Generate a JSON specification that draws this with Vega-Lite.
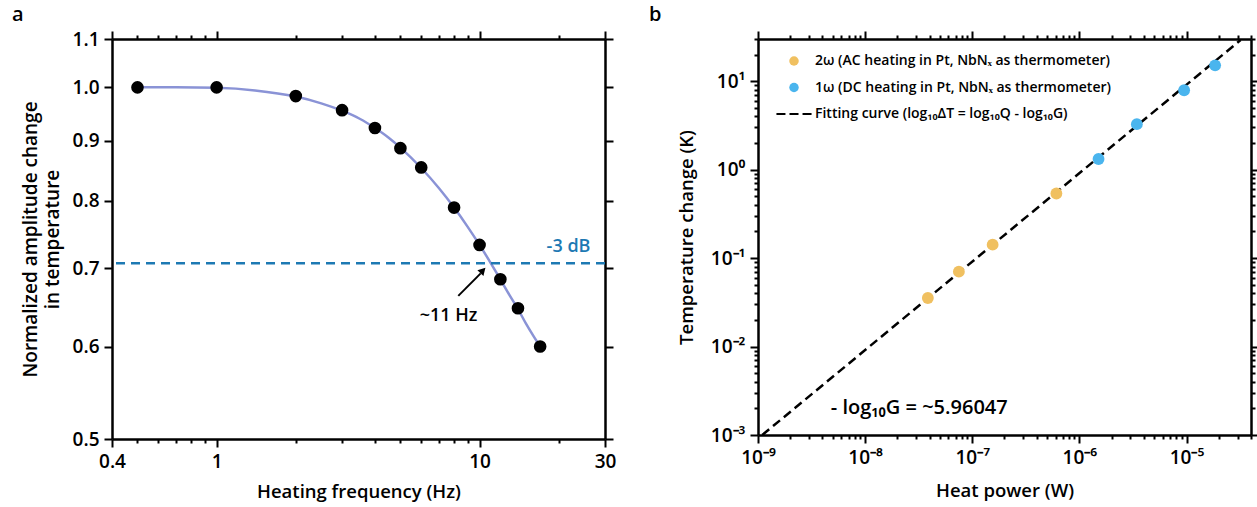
{
  "$schema": "https://vega.github.io/schema/vega-lite/v6.json",
  "background": "white",
  "padding": {"left": 12, "top": 5, "right": 0, "bottom": 5},
  "config": {
    "view": {"stroke": null},
    "font": "Open Sans",
    "axis": {
      "domainColor": "black", "domainWidth": 2.5, "tickColor": "black", "tickWidth": 2,
      "labelFont": "Open Sans", "labelFontSize": 19, "labelFontWeight": 600, "labelColor": "black",
      "titleFont": "Open Sans", "titleFontSize": 18.5, "titleFontWeight": 600, "titleColor": "black",
      "grid": false, "labelPadding": 5, "labelFlush": false, "labelOverlap": false
    },
    "legend": {
      "labelFont": "Open Sans", "labelFontSize": 14, "labelFontWeight": 600, "labelColor": "black",
      "symbolSize": 90, "padding": 0, "labelOffset": 14, "rowPadding": 12.5, "labelLimit": 500, "symbolStrokeWidth": 0
    },
    "title": {"font": "Open Sans", "fontSize": 20, "fontWeight": 600, "color": "black"}
  },
  "datasets": {
    "pointsA": [
      {"f": 0.5, "A": 1.0}, {"f": 1, "A": 1.0}, {"f": 2, "A": 0.983}, {"f": 3, "A": 0.956},
      {"f": 4, "A": 0.923}, {"f": 5, "A": 0.887}, {"f": 6, "A": 0.854}, {"f": 8, "A": 0.789},
      {"f": 10, "A": 0.733}, {"f": 12, "A": 0.685}, {"f": 14, "A": 0.647}, {"f": 17, "A": 0.6}
    ],
    "curve": [
      {"f": 0.5, "A": 1.0}, {"f": 0.7, "A": 1.0}, {"f": 1, "A": 0.999}, {"f": 1.4, "A": 0.994},
      {"f": 2, "A": 0.982}, {"f": 2.5, "A": 0.969}, {"f": 3, "A": 0.955}, {"f": 3.5, "A": 0.94},
      {"f": 4, "A": 0.923}, {"f": 4.5, "A": 0.906}, {"f": 5, "A": 0.888}, {"f": 6, "A": 0.853},
      {"f": 7, "A": 0.82}, {"f": 8, "A": 0.789}, {"f": 9, "A": 0.76}, {"f": 10, "A": 0.733},
      {"f": 11, "A": 0.708}, {"f": 12, "A": 0.685}, {"f": 13, "A": 0.664}, {"f": 14, "A": 0.646},
      {"f": 15, "A": 0.628}, {"f": 16, "A": 0.613}, {"f": 17, "A": 0.6}
    ],
    "level": [{"A": 0.707}],
    "dbLabel": [{"f": 21.8, "A": 0.73, "label": "-3 dB"}],
    "hzLabel": [{"f": 7.62, "A": 0.637, "label": "~11 Hz"}],
    "arrow": [{"f": 8.3, "A": 0.663, "f2": 10.1, "A2": 0.693}],
    "arrowHead": [{"f": 10.3, "A": 0.697}],
    "pointsB": [
      {"Q": 3.85e-8, "dT": 0.0354, "series": "2ω (AC heating in Pt, NbNₓ as thermometer)"},
      {"Q": 7.5e-8, "dT": 0.0703, "series": "2ω (AC heating in Pt, NbNₓ as thermometer)"},
      {"Q": 1.55e-7, "dT": 0.142, "series": "2ω (AC heating in Pt, NbNₓ as thermometer)"},
      {"Q": 6.1e-7, "dT": 0.538, "series": "2ω (AC heating in Pt, NbNₓ as thermometer)"},
      {"Q": 1.51e-6, "dT": 1.32, "series": "1ω (DC heating in Pt, NbNₓ as thermometer)"},
      {"Q": 3.44e-6, "dT": 3.27, "series": "1ω (DC heating in Pt, NbNₓ as thermometer)"},
      {"Q": 9.5e-6, "dT": 7.9, "series": "1ω (DC heating in Pt, NbNₓ as thermometer)"},
      {"Q": 1.85e-5, "dT": 15.1, "series": "1ω (DC heating in Pt, NbNₓ as thermometer)"}
    ],
    "fit": [{"Q": 1.0956e-9, "dT": 0.001}, {"Q": 3.2e-5, "dT": 29.2}],
    "gLabel": [{"Q": 3.2e-8, "dT": 0.002, "label": "- log₁₀G = ~5.96047"}]
  },
  "spacing": 153,
  "bounds": "flush",
  "hconcat": [
    {
      "width": 493, "height": 400,
      "title": {"text": "a", "anchor": "start", "frame": "group", "dx": -100, "offset": 5},
      "resolve": {"axis": {"x": "independent", "y": "independent"}},
      "layer": [
        {
          "data": {"name": "curve"},
          "mark": {"type": "line", "color": "#8a93d6", "strokeWidth": 2.5, "interpolate": "monotone"},
          "encoding": {
            "x": {"field": "f", "type": "quantitative",
              "scale": {"type": "log", "domain": [0.4, 30], "nice": false},
              "axis": {"orient": "bottom", "title": "Heating frequency (Hz)", "titlePadding": 11,
                "values": [0.4, 0.5, 0.6, 0.7, 0.8, 0.9, 1, 2, 3, 4, 5, 6, 7, 8, 9, 10, 20, 30],
                "labelExpr": "datum.value == 0.4 ? '0.4' : datum.value == 1 ? '1' : datum.value == 10 ? '10' : datum.value == 30 ? '30' : ''",
                "tickSize": {"condition": {"test": "datum.value == 0.4 || datum.value == 1 || datum.value == 10 || datum.value == 30", "value": 8}, "value": 4}}},
            "y": {"field": "A", "type": "quantitative",
              "scale": {"type": "log", "domain": [0.5, 1.1], "nice": false},
              "axis": {"orient": "left", "title": ["Normalized amplitude change", "in temperature"], "titleLineHeight": 22, "titlePadding": 10, "titleFontSize": 19,
                "values": [0.5, 0.6, 0.7, 0.8, 0.9, 1.0, 1.1], "format": ".1f", "tickSize": 8}}
          }
        },
        {
          "data": {"name": "pointsA"},
          "mark": {"type": "point", "filled": true, "color": "black", "size": 160, "opacity": 1},
          "encoding": {
            "x": {"field": "f", "type": "quantitative",
              "scale": {"type": "log", "domain": [0.4, 30], "nice": false},
              "axis": {"orient": "top", "title": null, "labels": false,
                "values": [0.4, 0.5, 0.6, 0.7, 0.8, 0.9, 1, 2, 3, 4, 5, 6, 7, 8, 9, 10, 20, 30],
                "tickSize": {"condition": {"test": "datum.value == 0.4 || datum.value == 1 || datum.value == 10 || datum.value == 30", "value": 8}, "value": 4}}},
            "y": {"field": "A", "type": "quantitative",
              "scale": {"type": "log", "domain": [0.5, 1.1], "nice": false},
              "axis": {"orient": "right", "title": null, "labels": false,
                "values": [0.5, 0.6, 0.7, 0.8, 0.9, 1.0, 1.1], "tickSize": 8}}
          }
        },
        {
          "data": {"name": "level"},
          "mark": {"type": "rule", "color": "#1d79b3", "strokeWidth": 2.5, "strokeDash": [9, 6]},
          "encoding": {
            "y": {"field": "A", "type": "quantitative", "scale": {"type": "log", "domain": [0.5, 1.1], "nice": false}, "axis": null}
          }
        },
        {
          "data": {"name": "dbLabel"},
          "mark": {"type": "text", "color": "#1d79b3", "fontSize": 18, "fontWeight": 600, "font": "Open Sans"},
          "encoding": {
            "x": {"field": "f", "type": "quantitative", "scale": {"type": "log", "domain": [0.4, 30], "nice": false}, "axis": null},
            "y": {"field": "A", "type": "quantitative", "scale": {"type": "log", "domain": [0.5, 1.1], "nice": false}, "axis": null},
            "text": {"field": "label"}
          }
        },
        {
          "data": {"name": "hzLabel"},
          "mark": {"type": "text", "color": "black", "fontSize": 18, "fontWeight": 600, "font": "Open Sans"},
          "encoding": {
            "x": {"field": "f", "type": "quantitative", "scale": {"type": "log", "domain": [0.4, 30], "nice": false}, "axis": null},
            "y": {"field": "A", "type": "quantitative", "scale": {"type": "log", "domain": [0.5, 1.1], "nice": false}, "axis": null},
            "text": {"field": "label"}
          }
        },
        {
          "data": {"name": "arrow"},
          "mark": {"type": "rule", "color": "black", "strokeWidth": 2},
          "encoding": {
            "x": {"field": "f", "type": "quantitative", "scale": {"type": "log", "domain": [0.4, 30], "nice": false}, "axis": null},
            "y": {"field": "A", "type": "quantitative", "scale": {"type": "log", "domain": [0.5, 1.1], "nice": false}, "axis": null},
            "x2": {"field": "f2"},
            "y2": {"field": "A2"}
          }
        },
        {
          "data": {"name": "arrowHead"},
          "mark": {"type": "point", "shape": "triangle-up", "filled": true, "color": "black", "size": 70, "angle": 44, "opacity": 1},
          "encoding": {
            "x": {"field": "f", "type": "quantitative", "scale": {"type": "log", "domain": [0.4, 30], "nice": false}, "axis": null},
            "y": {"field": "A", "type": "quantitative", "scale": {"type": "log", "domain": [0.5, 1.1], "nice": false}, "axis": null}
          }
        }
      ]
    },
    {
      "width": 493, "height": 396,
      "title": {"text": "b", "anchor": "start", "frame": "group", "dx": -109, "offset": 5},
      "resolve": {"axis": {"x": "independent", "y": "independent"}},
      "layer": [
        {
          "data": {"name": "fit"},
          "mark": {"type": "line", "color": "black", "strokeWidth": 2.5, "strokeDash": [9, 5]},
          "encoding": {
            "x": {"field": "Q", "type": "quantitative",
              "scale": {"type": "log", "domain": [1e-9, 4e-5], "nice": false},
              "axis": {"orient": "bottom", "title": "Heat power (W)", "titlePadding": 14,
                "values": [1e-9, 2e-9, 3e-9, 4e-9, 5e-9, 6e-9, 7e-9, 8e-9, 9e-9, 1e-8, 2e-8, 3e-8, 4e-8, 5e-8, 6e-8, 7e-8, 8e-8, 9e-8, 1e-7, 2e-7, 3e-7, 4e-7, 5e-7, 6e-7, 7e-7, 8e-7, 9e-7, 1e-6, 2e-6, 3e-6, 4e-6, 5e-6, 6e-6, 7e-6, 8e-6, 9e-6, 1e-5, 2e-5, 3e-5, 4e-5],
                "labelExpr": "abs(log(datum.value)/LN10 - round(log(datum.value)/LN10)) < 0.001 ? '10' + (round(log(datum.value)/LN10) < 0 ? '⁻' : '') + substring('⁰¹²³⁴⁵⁶⁷⁸⁹', abs(round(log(datum.value)/LN10)), abs(round(log(datum.value)/LN10)) + 1) : ''",
                "tickSize": {"condition": {"test": "abs(log(datum.value)/LN10 - round(log(datum.value)/LN10)) < 0.001", "value": 8}, "value": 4}}},
            "y": {"field": "dT", "type": "quantitative",
              "scale": {"type": "log", "domain": [0.001, 30], "nice": false},
              "axis": {"orient": "left", "title": "Temperature change (K)", "titlePadding": 14,
                "values": [0.001, 0.002, 0.003, 0.004, 0.005, 0.006, 0.007, 0.008, 0.009, 0.01, 0.02, 0.03, 0.04, 0.05, 0.06, 0.07, 0.08, 0.09, 0.1, 0.2, 0.3, 0.4, 0.5, 0.6, 0.7, 0.8, 0.9, 1, 2, 3, 4, 5, 6, 7, 8, 9, 10, 20, 30],
                "labelExpr": "abs(log(datum.value)/LN10 - round(log(datum.value)/LN10)) < 0.001 ? '10' + (round(log(datum.value)/LN10) < 0 ? '⁻' : '') + substring('⁰¹²³⁴⁵⁶⁷⁸⁹', abs(round(log(datum.value)/LN10)), abs(round(log(datum.value)/LN10)) + 1) : ''",
                "tickSize": {"condition": {"test": "abs(log(datum.value)/LN10 - round(log(datum.value)/LN10)) < 0.001", "value": 8}, "value": 4}}}
          }
        },
        {
          "data": {"name": "pointsB"},
          "mark": {"type": "point", "filled": true, "size": 140, "opacity": 1},
          "encoding": {
            "x": {"field": "Q", "type": "quantitative",
              "scale": {"type": "log", "domain": [1e-9, 4e-5], "nice": false},
              "axis": {"orient": "top", "title": null, "labels": false,
                "values": [1e-9, 2e-9, 3e-9, 4e-9, 5e-9, 6e-9, 7e-9, 8e-9, 9e-9, 1e-8, 2e-8, 3e-8, 4e-8, 5e-8, 6e-8, 7e-8, 8e-8, 9e-8, 1e-7, 2e-7, 3e-7, 4e-7, 5e-7, 6e-7, 7e-7, 8e-7, 9e-7, 1e-6, 2e-6, 3e-6, 4e-6, 5e-6, 6e-6, 7e-6, 8e-6, 9e-6, 1e-5, 2e-5, 3e-5, 4e-5],
                "tickSize": {"condition": {"test": "abs(log(datum.value)/LN10 - round(log(datum.value)/LN10)) < 0.001", "value": 8}, "value": 4}}},
            "y": {"field": "dT", "type": "quantitative",
              "scale": {"type": "log", "domain": [0.001, 30], "nice": false},
              "axis": {"orient": "right", "title": null, "labels": false,
                "values": [0.001, 0.002, 0.003, 0.004, 0.005, 0.006, 0.007, 0.008, 0.009, 0.01, 0.02, 0.03, 0.04, 0.05, 0.06, 0.07, 0.08, 0.09, 0.1, 0.2, 0.3, 0.4, 0.5, 0.6, 0.7, 0.8, 0.9, 1, 2, 3, 4, 5, 6, 7, 8, 9, 10, 20, 30],
                "tickSize": {"condition": {"test": "abs(log(datum.value)/LN10 - round(log(datum.value)/LN10)) < 0.001", "value": 8}, "value": 4}}},
            "color": {"field": "series", "type": "nominal",
              "scale": {"domain": ["2ω (AC heating in Pt, NbNₓ as thermometer)", "1ω (DC heating in Pt, NbNₓ as thermometer)", "Fitting curve (log₁₀ΔT = log₁₀Q - log₁₀G)"],
                "range": ["#F0C060", "#4AB5EE", "black"]},
              "legend": {"orient": "none", "legendX": 675, "legendY": 15, "title": null}},
            "shape": {"field": "series", "type": "nominal",
              "scale": {"domain": ["2ω (AC heating in Pt, NbNₓ as thermometer)", "1ω (DC heating in Pt, NbNₓ as thermometer)", "Fitting curve (log₁₀ΔT = log₁₀Q - log₁₀G)"],
                "range": ["circle", "circle", "M-3.7,-0.22H-1.8V0.22H-3.7Z M-0.95,-0.22H0.95V0.22H-0.95Z M1.8,-0.22H3.7V0.22H1.8Z"]},
              "legend": {"orient": "none", "legendX": 675, "legendY": 15, "title": null}}
          }
        },
        {
          "data": {"name": "gLabel"},
          "mark": {"type": "text", "color": "black", "fontSize": 20, "fontWeight": 600, "font": "Open Sans"},
          "encoding": {
            "x": {"field": "Q", "type": "quantitative", "scale": {"type": "log", "domain": [1e-9, 4e-5], "nice": false}, "axis": null},
            "y": {"field": "dT", "type": "quantitative", "scale": {"type": "log", "domain": [0.001, 30], "nice": false}, "axis": null},
            "text": {"field": "label"}
          }
        }
      ]
    }
  ]
}
